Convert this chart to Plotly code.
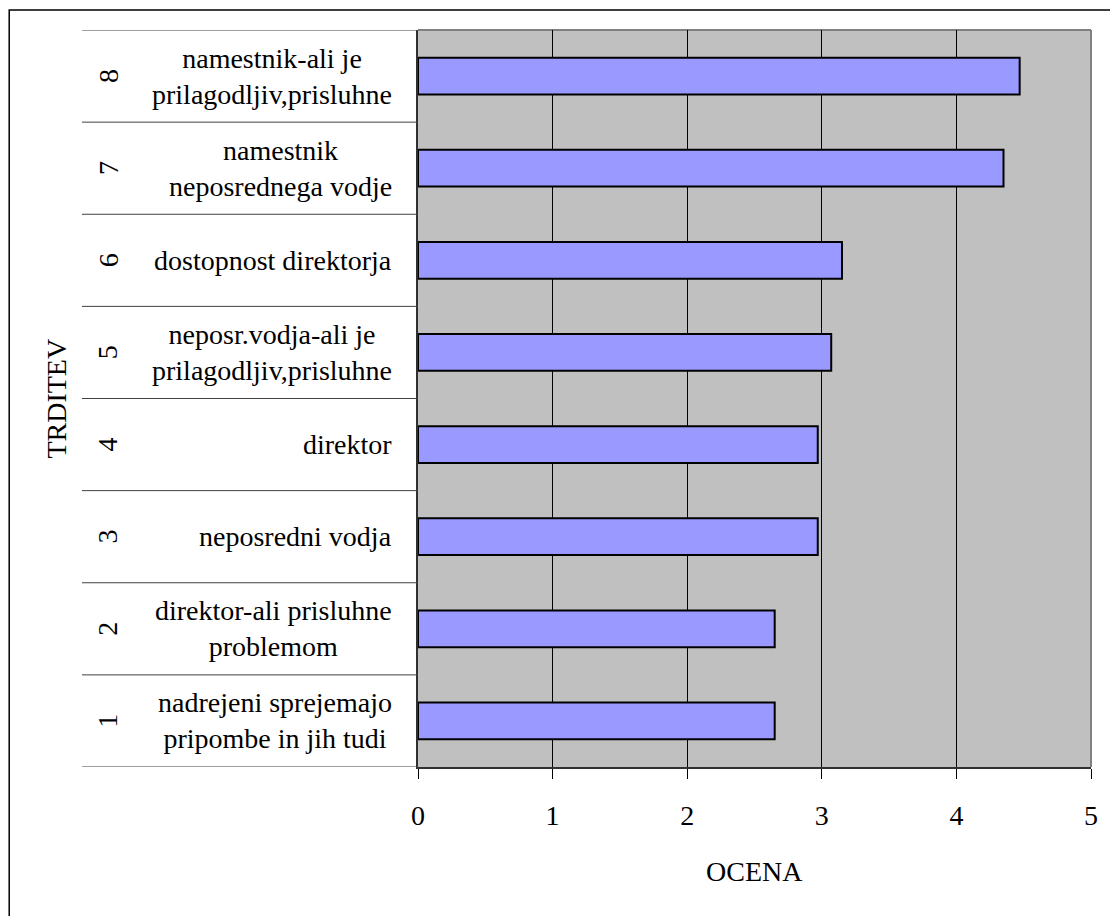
import plotly.graph_objects as go

# Statements (level-2 labels), their numbers (level-1 labels) and mean scores
numbers = ["1", "2", "3", "4", "5", "6", "7", "8"]
statements = [
    "nadrejeni sprejemajo<br>pripombe in jih tudi",
    "direktor-ali prisluhne<br>problemom",
    "neposredni vodja",
    "direktor",
    "neposr.vodja-ali je<br>prilagodljiv,prisluhne",
    "dostopnost direktorja",
    "namestnik<br>neposrednega vodje",
    "namestnik-ali je<br>prilagodljiv,prisluhne",
]
scores = [2.65, 2.65, 2.97, 2.97, 3.07, 3.15, 4.35, 4.47]
x_ticks = [0, 1, 2, 3, 4, 5]

W, H = 1110, 916
L, R, T, B = 418, 1093, 30, 767
FONT = "Liberation Serif"
FS = 28


def px_x(p):
    return (p - L) / (R - L)


def px_y(p):
    return (B - p) / (B - T)


fig = go.Figure()
fig.add_trace(go.Bar(
    x=scores,
    y=numbers,
    orientation="h",
    width=0.4,
    marker=dict(color="#9999FF", line=dict(color="#000000", width=2)),
    hoverinfo="x+y",
))

shapes = []
annotations = []

# category divider lines in the label area
n = len(numbers)
for i in range(n + 1):
    shapes.append(dict(type="line", xref="paper", yref="y",
                       x0=px_x(81), x1=0, y0=i - 0.5, y1=i - 0.5,
                       line=dict(color="#404040", width=1)))

# labels for each category (by category index): rotated number and statement text
for i, (num, txt) in enumerate(zip(numbers, statements)):
    annotations.append(dict(xref="paper", yref="y", x=px_x(107), y=i,
                            text=num, textangle=-90, showarrow=False,
                            xanchor="center", yanchor="middle",
                            font=dict(family=FONT, size=FS, color="#000")))
    annotations.append(dict(xref="paper", yref="y", x=px_x(394), y=i,
                            text=txt, showarrow=False, align="center",
                            xanchor="right", yanchor="middle",
                            font=dict(family=FONT, size=FS, color="#000")))

# axis titles
annotations.append(dict(xref="paper", yref="paper", x=px_x(55), y=0.5,
                        text="TRDITEV", textangle=-90, showarrow=False,
                        xanchor="center", yanchor="middle",
                        font=dict(family=FONT, size=FS, color="#000")))
annotations.append(dict(xref="paper", yref="paper", x=0.5, y=px_y(872),
                        text="OCENA", showarrow=False,
                        xanchor="center", yanchor="middle",
                        font=dict(family=FONT, size=FS, color="#000")))

# top/right edge of plot area
shapes.append(dict(type="line", xref="paper", yref="paper", x0=0, x1=1, y0=1, y1=1,
                   line=dict(color="#808080", width=2), layer="below"))
shapes.append(dict(type="line", xref="paper", yref="paper", x0=1, x1=1, y0=0, y1=1,
                   line=dict(color="#808080", width=2), layer="below"))

# chart frame
shapes.append(dict(type="rect", xref="paper", yref="paper",
                   x0=px_x(8), x1=px_x(1114), y0=px_y(920), y1=px_y(10),
                   line=dict(color="#000", width=1.5), fillcolor="rgba(0,0,0,0)"))

fig.update_layout(
    width=W, height=H,
    margin=dict(l=L, r=W - R, t=T, b=H - B),
    paper_bgcolor="#FFFFFF",
    plot_bgcolor="#C0C0C0",
    showlegend=False,
    bargap=0.6,
    shapes=shapes,
    annotations=annotations,
    font=dict(family=FONT, size=FS, color="#000"),
    xaxis=dict(
        range=[0, 5], tickvals=x_ticks, ticktext=[str(v) for v in x_ticks],
        showgrid=True, gridcolor="#000000", gridwidth=1,
        zeroline=False, showline=True, linecolor="#303030", linewidth=2,
        ticks="outside", ticklen=10, tickcolor="#000", tickwidth=1,
        ticklabelstandoff=12,
        tickfont=dict(family=FONT, size=FS, color="#000"),
    ),
    yaxis=dict(
        type="category", categoryorder="array", categoryarray=numbers,
        range=[-0.5, n - 0.5], showticklabels=False, ticks="",
        showgrid=False, zeroline=False,
        showline=True, linecolor="#303030", linewidth=2,
    ),
)

fig.write_html("out.html")
